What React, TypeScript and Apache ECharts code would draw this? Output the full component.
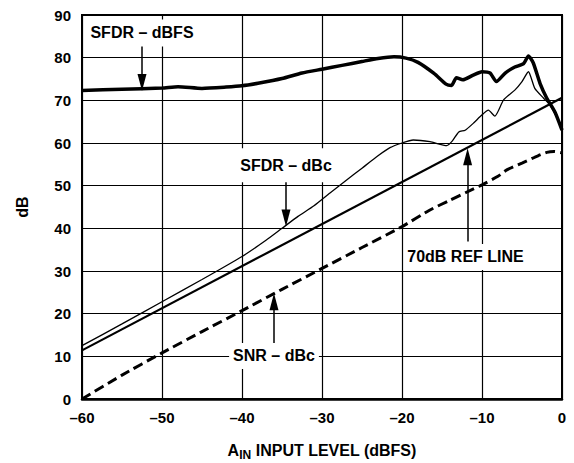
import React, { useEffect, useRef } from 'react';
import * as echarts from 'echarts';

const FONT = '"Liberation Sans", Arial, Helvetica, sans-serif';

// SFDR – dBFS (thick solid)
const sfdrDbfsX = [-60, -55, -50, -48, -45, -42, -40, -38, -35, -32.5, -30, -27.5, -25, -23, -21, -19.5, -18, -16, -14.5, -13.8, -13.2, -12.4, -11.1, -10, -9, -8.2, -7.1, -5.9, -4.8, -4.2, -3.6, -2.75, -1.9, -0.9, 0];
const sfdrDbfsY = [72.3, 72.6, 72.9, 73.2, 72.8, 73.1, 73.4, 74.0, 75.1, 76.4, 77.3, 78.2, 79.1, 79.8, 80.2, 79.9, 78.9, 76.3, 73.8, 73.5, 75.3, 74.8, 75.9, 76.7, 76.4, 74.4, 76.4, 77.8, 78.6, 80.4, 78.8, 74.0, 70.5, 67.3, 63.0];

// SFDR – dBc (thin solid)
const sfdrDbcX = [-60, -55, -50, -45, -40, -37, -35, -33, -31, -29, -27, -25, -23, -21.5, -20, -18.6, -16.5, -14.4, -13.7, -12.9, -12.1, -11.1, -10, -9.2, -8.4, -7.3, -5.9, -5, -4.2, -3.4, -2.3, -1.5, -0.7, 0];
const sfdrDbcY = [12.5, 17.6, 22.8, 28.0, 33.4, 37.2, 40.0, 42.8, 45.3, 48.3, 51.2, 54.1, 57.0, 58.9, 60.0, 60.7, 60.3, 59.4, 60.5, 62.6, 63.0, 64.6, 66.6, 67.7, 66.3, 70.1, 72.4, 74.4, 76.7, 72.8, 70.5, 68.9, 66.2, 64.0];

// 70dB reference line
const refX = [-60, 0];
const refY = [11.4, 70.6];

// SNR – dBc (dashed)
const snrX = [-60, -55, -50, -45, -40, -35, -30, -25, -20, -16.5, -14, -12, -10, -8, -6.9, -5, -3, -1.9, -1, 0];
const snrY = [0, 5.6, 10.8, 15.8, 20.7, 25.7, 30.6, 35.5, 40.4, 44.3, 46.6, 48.4, 50.2, 52.2, 53.7, 55.3, 57.0, 57.8, 58.0, 57.7];

// Annotation labels (data coordinates of text centre)
const labelTexts = ['SFDR – dBFS', 'SFDR – dBc', 'SNR – dBc', '70dB REF LINE'];
const labelX = [-52.5, -34.5, -36, -12.06];
const labelY = [85.8, 54.8, 10.1, 33.3];
const labelPad = [[8, 3, 3, 3], [9, 3, 9, 3], [5, 4, 5, 4], [5, 3, 5, 3]];

// Arrows: from (x, y0) to (x, y1)
const arrowX = [-52.5, -34.5, -36, -11.8];
const arrowY0 = [83.7, 51.8, 13.1, 36.9];
const arrowY1 = [74.2, 42.4, 22.8, 56.8];

const zip = (xs: number[], ys: number[]) => xs.map((x, i) => [x, ys[i]]);

export default function App() {
  const ref = useRef<HTMLDivElement>(null);
  useEffect(() => {
    const chart = echarts.init(ref.current!, null, { renderer: 'svg' });
    const tickStyle = { color: '#000', fontFamily: FONT, fontWeight: 'bold' as const, fontSize: 15 };
    chart.setOption({
      animation: false,
      backgroundColor: '#fff',
      grid: {
        left: 82, right: 12, top: 15, bottom: 64,
        show: true, borderColor: '#000', borderWidth: 2,
        outerBoundsMode: 'none',
      },
      xAxis: {
        type: 'value', min: -60, max: 0, interval: 10,
        axisLine: { show: true, lineStyle: { color: '#000', width: 2.5 } },
        axisTick: { show: false },
        splitLine: { show: true, lineStyle: { color: '#000', width: 1.2 } },
        axisLabel: { ...tickStyle, margin: 11, formatter: (v: number) => String(v).replace('-', '–') },
        name: '{a|A}{s|IN}{a| INPUT LEVEL (dBFS)}',
        nameLocation: 'middle',
        nameGap: 40,
        nameTextStyle: {
          rich: {
            a: { fontFamily: FONT, fontWeight: 'bold', fontSize: 16, color: '#000', lineHeight: 22, verticalAlign: 'middle' },
            s: { fontFamily: FONT, fontWeight: 'bold', fontSize: 12, color: '#000', lineHeight: 12, verticalAlign: 'bottom' },
          },
        },
      },
      yAxis: {
        type: 'value', min: 0, max: 90, interval: 10,
        axisLine: { show: true, lineStyle: { color: '#000', width: 2 } },
        axisTick: { show: false },
        splitLine: { show: true, lineStyle: { color: '#000', width: 1.2 } },
        axisLabel: { ...tickStyle, margin: 11 },
        name: 'dB',
        nameLocation: 'middle',
        nameRotate: 90,
        nameGap: 52,
        nameTextStyle: { fontFamily: FONT, fontWeight: 'bold', fontSize: 16, color: '#000' },
      },
      series: [
        {
          name: 'SFDR – dBFS', type: 'line', data: zip(sfdrDbfsX, sfdrDbfsY), showSymbol: false,
          smooth: 0.2,
          lineStyle: { color: '#000', width: 3.5 }, z: 5,
        },
        {
          name: 'SFDR – dBc', type: 'line', data: zip(sfdrDbcX, sfdrDbcY), showSymbol: false,
          smooth: 0.2,
          lineStyle: { color: '#000', width: 1.3 }, z: 4,
        },
        {
          name: '70dB REF LINE', type: 'line', data: zip(refX, refY), showSymbol: false,
          lineStyle: { color: '#000', width: 2.2 }, z: 4,
          markLine: {
            silent: true,
            animation: false,
            label: { show: false },
            lineStyle: { color: '#000', width: 1.5, type: 'solid' },
            symbol: ['none', 'triangle'],
            symbolSize: [9, 17],
            data: arrowX.map((x, i) => [
              { coord: [x, arrowY0[i]], symbol: 'none' },
              { coord: [x, arrowY1[i]], symbol: 'triangle', symbolSize: [9, 17] },
            ]),
          },
        },
        {
          name: 'SNR – dBc', type: 'line', data: zip(snrX, snrY), showSymbol: false,
          smooth: 0.2,
          lineStyle: { color: '#000', width: 3, type: [10, 5] }, z: 4,
        },
      ],
    });
    const graphic = labelTexts.map((t, i) => {
      const p = chart.convertToPixel({ gridIndex: 0 }, [labelX[i], labelY[i]]) as number[];
      return {
        type: 'text', x: p[0], y: p[1], z: 100,
        style: {
          text: t, fill: '#000', font: `bold 16px ${FONT}`,
          align: 'center', verticalAlign: 'middle',
          backgroundColor: '#fff', padding: labelPad[i],
        },
      };
    });
    chart.setOption({ graphic });
    return () => chart.dispose();
  }, []);
  return <div ref={ref} style={{ position: 'fixed', left: 0, top: 0, width: 574, height: 463 }} />;
}
